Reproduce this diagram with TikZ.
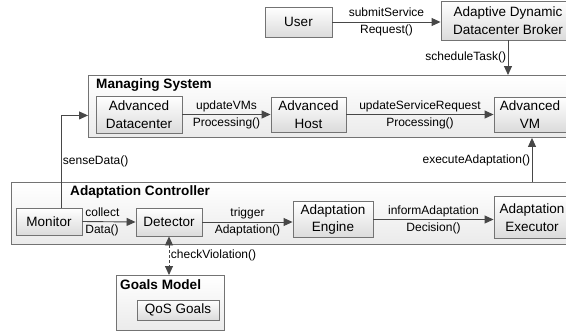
\documentclass[tikz,border=0pt]{standalone}
\usepackage{fontspec}
\setmainfont{Liberation Sans}
\usetikzlibrary{arrows.meta, positioning}

\begin{document}
\begin{tikzpicture}[x=1pt, y=-1pt,
    >={Triangle[length=9pt, width=8pt]},
    box/.style={draw=black!55, line width=0.9pt, top color=white, bottom color=gray!28,
      align=center, inner sep=1pt, font=\fontsize{13.5}{17.5}\selectfont},
    group/.style={box, anchor=north west, bottom color=gray!16},
    title/.style={anchor=west, inner sep=0pt, font=\bfseries\fontsize{13.6}{15}\selectfont},
    call/.style={align=center, inner sep=1.5pt, font=\fontsize{12}{17}\selectfont},
    arr/.style={draw=black!72, line width=0.9pt, ->}
  ]
    \useasboundingbox (0,0) rectangle (566,333);
    \clip (0,0) rectangle (566,333);

    \node[group, minimum width=520pt, minimum height=62pt] (managing) at (88,75) {};
    \node[group, minimum width=600pt, minimum height=62pt] (controller) at (11,182) {};
    \node[group, minimum width=108pt, minimum height=55pt] (goals) at (116,275) {};
    \node[title] (managingtitle) at (96,85) {Managing System};
    \node[title] (controllertitle) at (70,192) {Adaptation Controller};
    \node[title] (goalstitle) at (120,285) {Goals Model};

    \node[box, minimum width=67pt, minimum height=30pt] (user) at (298.5,22) {User};
    \node[box, minimum width=134pt, minimum height=39pt] (broker) at (508,20.5) {Adaptive Dynamic\\Datacenter Broker};
    \node[box, minimum width=86pt, minimum height=37pt] (datacenter) at (139,114.5) {Advanced\\Datacenter};
    \node[box, minimum width=75pt, minimum height=35pt] (host) at (308.5,114.5) {Advanced\\Host};
    \node[box, minimum width=72pt, minimum height=35pt] (vm) at (530,114.5) {Advanced\\VM};
    \node[box, minimum width=66pt, minimum height=27pt] (monitor) at (49,221.5) {Monitor};
    \node[box, minimum width=66pt, minimum height=28pt] (detector) at (169,222) {Detector};
    \node[box, minimum width=80pt, minimum height=36pt] (engine) at (333,219.5) {Adaptation\\Engine};
    \node[box, minimum width=76pt, minimum height=42pt] (executor) at (532,217.5) {Adaptation\\Executor};
    \node[box, minimum width=82pt, minimum height=20pt] (qos) at (178,310) {QoS Goals};

    \draw[arr] (user.east) -- (user.east -| broker.west) node[call, midway] {submitService\\Request()};
    \draw[arr] (broker.south) -- (broker.south |- managing.north) node[call, midway, left] {scheduleTask()};
    \draw[arr] (datacenter.east) -- (host.west) node[call, midway] {updateVMs\\Processing()};
    \draw[arr] (host.east) -- (vm.west) node[call, midway] {updateServiceRequest\\Processing()};
    \draw[arr] ([xshift=12pt]monitor.north) |- ([yshift=-9pt]managing.west) node[call, pos=0.25, right] {senseData()};
    \draw[arr] (monitor.east) -- (detector.west) node[call, pos=0, anchor=west, align=left, xshift=1pt] {collect\\Data()};
    \draw[arr] (detector.east) -- (detector.east -| engine.west) node[call, midway] {trigger\\Adaptation()};
    \draw[arr] (engine.east) -- (engine.east -| executor.west) node[call, midway] {informAdaptation\\Decision()};
    \draw[arr] (executor.north |- controller.north) -- (executor.north |- managing.south) node[call, midway, left] {executeAdaptation()};
    \draw[arr, <->, dash pattern=on 3pt off 2pt] (detector.south) -- (detector.south |- goals.north) node[call, midway, right] {checkViolation()};
\end{tikzpicture}
\end{document}
